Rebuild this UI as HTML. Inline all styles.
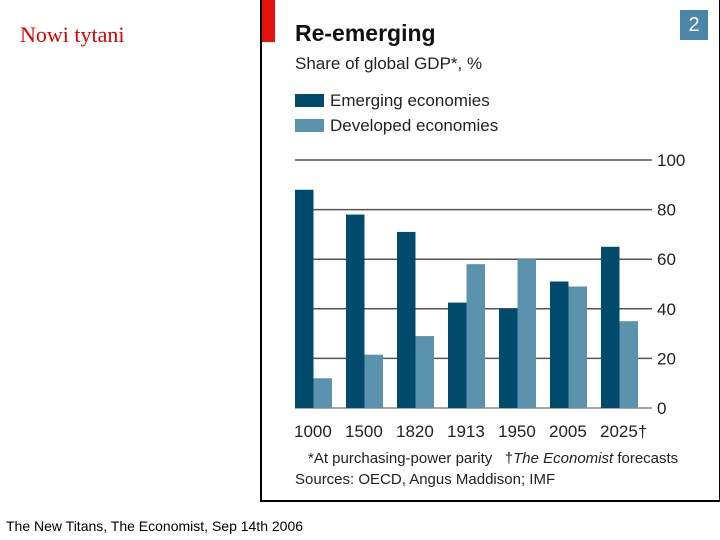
<!DOCTYPE html>
<html><head><meta charset="utf-8"><style>
body{margin:0;width:720px;height:540px;background:#fff;position:relative;overflow:hidden;font-family:"Liberation Sans",sans-serif}
.a{position:absolute;white-space:nowrap}
</style></head><body>
<div class="a" style="left:20px;top:22px;font:22px 'Liberation Serif',serif;color:#e00000">Nowi tytani</div>
<div class="a" style="left:6px;top:518px;font-size:14px;color:#000">The New Titans, The Economist, Sep 14th 2006</div>
<div class="a" style="left:260px;top:-2px;width:457px;height:500px;border:2px solid #000;background:#fff"></div>
<div class="a" style="left:262px;top:0;width:13px;height:42px;background:#e3120b"></div>
<div class="a" style="left:680px;top:10px;width:28px;height:30px;background:#4a86a8;color:#fff;font-size:20px;text-align:center;line-height:30px">2</div>
<div class="a" style="left:295px;top:20px;font-size:23px;font-weight:bold;color:#111">Re-emerging</div>
<div class="a" style="left:295px;top:54px;font-size:17px;color:#222">Share of global GDP*, %</div>
<div class="a" style="left:295px;top:91px;font-size:17px;color:#222"><span style="display:inline-block;width:29px;height:13px;background:#004b6b;vertical-align:-1px;margin-right:6px"></span>Emerging economies</div>
<div class="a" style="left:295px;top:116px;font-size:17px;color:#222"><span style="display:inline-block;width:29px;height:13px;background:#5b93ae;vertical-align:-1px;margin-right:6px"></span>Developed economies</div>
<svg class="a" style="left:0;top:0" width="720" height="540" id="chart"></svg>
<div class="a" style="left:308px;top:450px;font-size:15px;color:#222">*At purchasing-power parity &nbsp; †<i>The Economist</i> forecasts</div>
<div class="a" style="left:295px;top:471px;font-size:15px;color:#222">Sources: OECD, Angus Maddison; IMF</div>
<script>
const categories=["1000","1500","1820","1913","1950","2005","2025†"];
const emerging=[88,78,71,42.5,40,51,65];
const developed=[12,21.5,29,58,60,49,35];
const ticks=[0,20,40,60,80,100];
const svg=document.getElementById('chart');
const NS='http://www.w3.org/2000/svg';
const y=v=>408-v*2.48;
const x0=295,step=51,bw=18.5;
function mk(t,a){const e=document.createElementNS(NS,t);for(const k in a)e.setAttribute(k,a[k]);svg.appendChild(e);return e;}
ticks.forEach(t=>{
 const l=mk('line',{x1:295,x2:652,y1:y(t),y2:y(t),stroke:t===0?'#888':'#555','stroke-width':t===0?1.5:1.5});
 
 
 const tx=mk('text',{x:657,y:y(t)+6,'font-size':17,fill:'#222','font-family':'Liberation Sans, sans-serif'});
 tx.textContent=t;
 
 
});
categories.forEach((c,i)=>{
 const bx=x0+i*step;
 const r1=mk('rect',{x:bx,y:y(emerging[i]),width:bw,height:y(0)-y(emerging[i]),fill:'#004b6b'});
 
 
 const r2=mk('rect',{x:bx+bw,y:y(developed[i]),width:bw,height:y(0)-y(developed[i]),fill:'#5b93ae'});
 
 
 const t=mk('text',{x:bx-1,y:437,'font-size':17,fill:'#222','font-family':'Liberation Sans, sans-serif'});
 t.textContent=c;
 
 
});
</script>
</body></html>
